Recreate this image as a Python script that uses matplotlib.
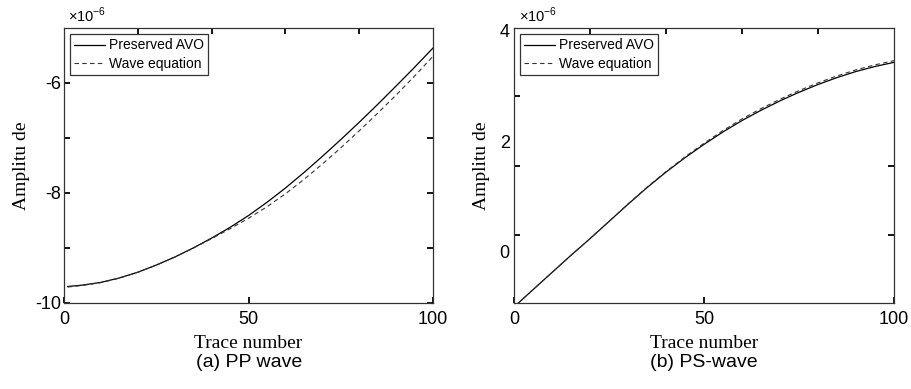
import matplotlib
matplotlib.use("Agg")
import matplotlib.pyplot as plt

# trace numbers (sampled every 5 traces)
traces = [1, 5, 10, 15, 20, 25, 30, 35, 40, 45, 50, 55, 60, 65, 70, 75, 80, 85, 90, 95, 100]

# (a) PP wave, amplitude x1e-6
pp_avo = [-9.70, -9.675, -9.625, -9.545, -9.44, -9.31, -9.165, -9.00, -8.82, -8.625, -8.41,
          -8.17, -7.91, -7.63, -7.335, -7.03, -6.715, -6.39, -6.055, -5.715, -5.365]
pp_wave = [-9.71, -9.68, -9.63, -9.548, -9.442, -9.312, -9.168, -9.004, -8.83, -8.65, -8.46,
           -8.25, -8.015, -7.755, -7.475, -7.18, -6.87, -6.55, -6.22, -5.875, -5.515]

# (b) PS wave, amplitude x1e-6
ps_avo = [-0.93, -0.68, -0.37, -0.06, 0.24, 0.55, 0.86, 1.16, 1.44, 1.70, 1.94,
          2.165, 2.37, 2.555, 2.725, 2.88, 3.02, 3.145, 3.255, 3.345, 3.42]
ps_wave = [-0.93, -0.68, -0.37, -0.06, 0.24, 0.55, 0.865, 1.168, 1.45, 1.715, 1.96,
           2.19, 2.40, 2.585, 2.755, 2.91, 3.05, 3.175, 3.285, 3.375, 3.45]

sans = ["Liberation Sans Narrow", "Liberation Sans"]
serif = "Liberation Serif"
plt.rcParams['font.family'] = sans
plt.rcParams['mathtext.fontset'] = 'custom'
plt.rcParams['mathtext.rm'] = 'Liberation Sans'

fig = plt.figure(figsize=(9.11, 3.89), dpi=100)
ax1 = fig.add_axes([0.0703, 0.2211, 0.405, 0.707])
ax2 = fig.add_axes([0.5642, 0.2211, 0.4171, 0.707])

spine_col = "#333333"


def style(ax):
    for s in ax.spines.values():
        s.set_color(spine_col)
        s.set_linewidth(0.9)
    ax.set_xlim(0, 100)
    ax.set_xticks([0, 50, 100])
    ax.set_xticks([20, 40, 60, 80], minor=True)
    ax.tick_params(axis='x', which='major', direction='in', top=False, bottom=True,
                   length=4, width=1.3, pad=6, labelsize=13)
    ax.tick_params(axis='x', which='minor', direction='in', top=True, bottom=False,
                   length=4, width=1.3)
    ax.set_xlabel("Trace number", fontfamily=serif, fontsize=14)
    ax.xaxis.set_label_coords(0.5, -0.118)
    ax.set_ylabel("Amplitu de", fontfamily=serif, fontsize=14)


for ax, avo, wave in [(ax1, pp_avo, pp_wave), (ax2, ps_avo, ps_wave)]:
    ax.plot(traces, avo, color="black", lw=0.9, label="Preserved AVO")
    ax.plot(traces, wave, color="#333333", lw=0.8, ls=(0, (4, 3)), label="Wave equation")
    style(ax)
    leg = ax.legend(loc="upper left", bbox_to_anchor=(0.0, 1.0), fontsize=10,
                    handlelength=2.2, handletextpad=0.3, borderpad=0.3,
                    labelspacing=0.3, borderaxespad=0.45, fancybox=False,
                    framealpha=1, edgecolor="#333333")
    leg.get_frame().set_linewidth(0.9)
    ax.text(0.012, 1.012, r"×10$^{\mathregular{-6}}$", transform=ax.transAxes,
            fontsize=10.5, ha="left", va="bottom")

# (a) PP wave axis
ax1.set_ylim(-10, -5)
ax1.set_yticks([-10, -8, -6])
ax1.set_yticks([-9, -7], minor=True)
ax1.tick_params(axis='y', which='both', direction='in', left=True, right=True,
                length=4, width=1.3, pad=2, labelsize=13)
ax1.yaxis.set_label_coords(-0.092, 0.5)
ax1.set_yticklabels(["-10", "-8", "-6"])

# (b) PS wave axis
ax2.set_ylim(-0.92, 4.04)
ax2.set_yticks([0, 2, 4])
ax2.set_yticklabels(["0", "2", "4"])
ax2.set_yticks([0.31, 1.55, 2.81], minor=True)
ax2.tick_params(axis='y', which='major', direction='in', left=True, right=False,
                length=0, pad=3, labelsize=13)
ax2.tick_params(axis='y', which='minor', direction='in', left=True, right=False,
                length=4, width=1.3)
sec = ax2.secondary_yaxis('right')
sec.set_yticks([0.31, 1.55])
sec.tick_params(direction='in', length=4, width=1.3, labelright=False)
sec.spines['right'].set_visible(False)
ax2.yaxis.set_label_coords(-0.063, 0.5)

fig.text(0.2732, 0.045, "(a) PP wave", ha="center", va="bottom", fontsize=14,
         family=["Liberation Sans Narrow", "Liberation Sans"])
fig.text(0.7727, 0.045, "(b) PS-wave", ha="center", va="bottom", fontsize=14,
         family=["Liberation Sans Narrow", "Liberation Sans"])

fig.savefig("out.png", dpi=100)
